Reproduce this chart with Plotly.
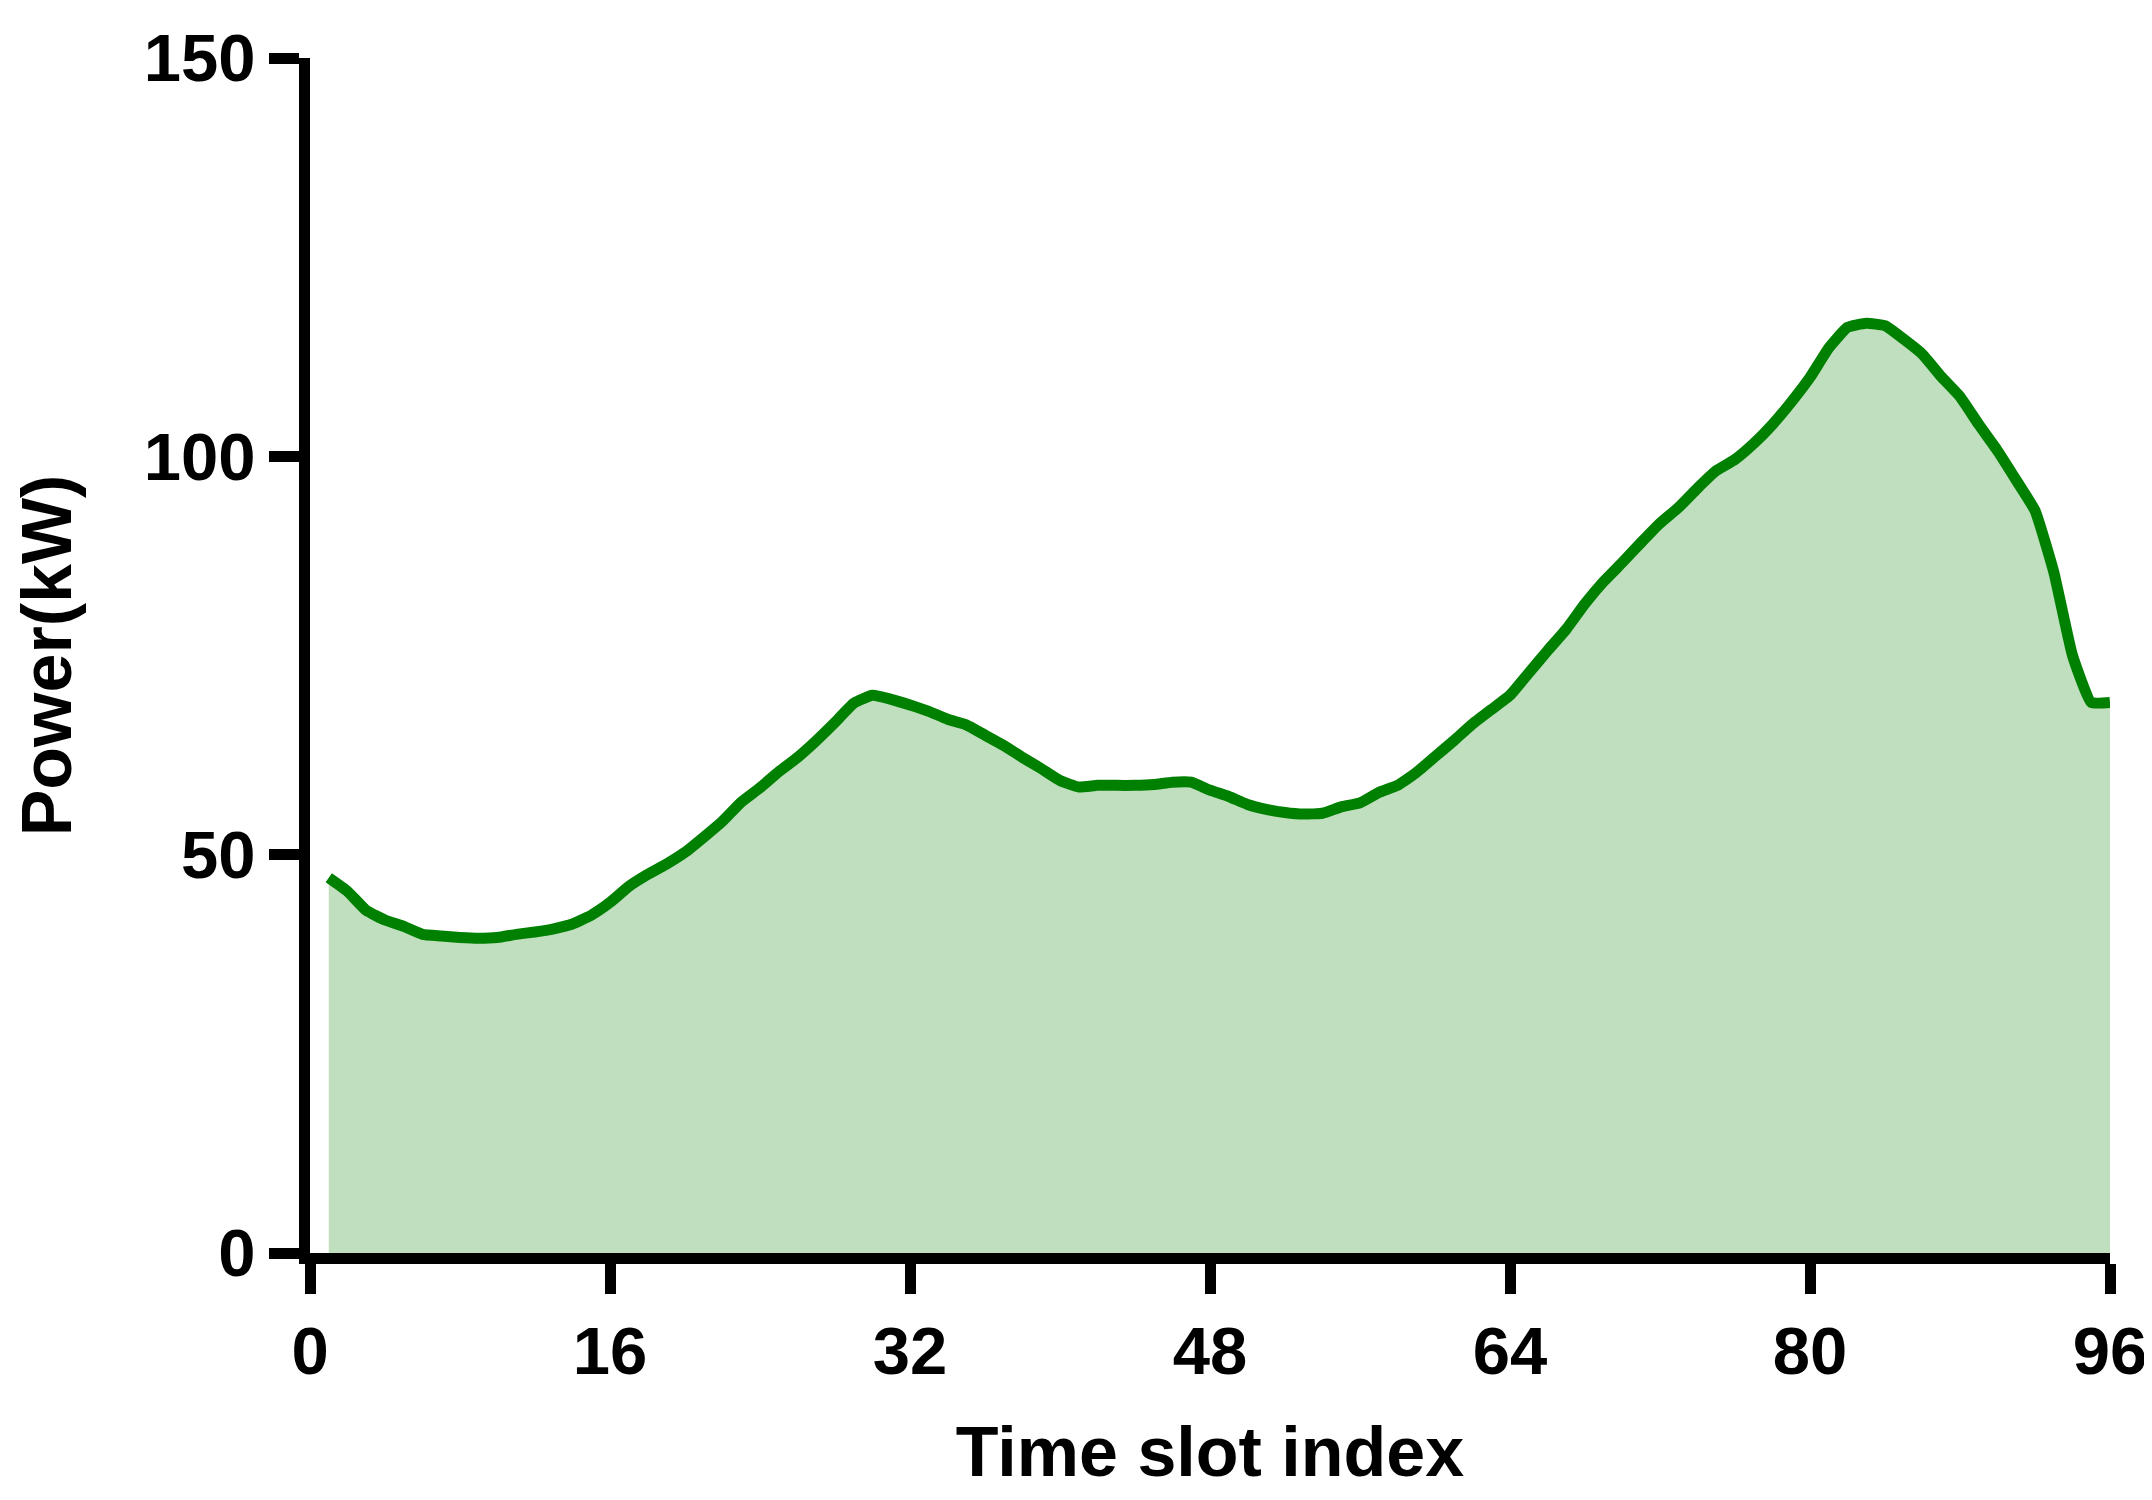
import plotly.graph_objects as go

# Time slot indices 1..96
slots = list(range(1, 97))
# Power (kW)
power = [
    47.1, 45.4, 43.0, 41.8, 41.0, 40.0, 39.8, 39.6, 39.5, 39.6,
    40.0, 40.3, 40.7, 41.3, 42.4, 44.0, 46.0, 47.5, 48.8, 50.3,
    52.2, 54.2, 56.6, 58.4, 60.4, 62.2, 64.3, 66.6, 69.0, 70.0,
    69.5, 68.8, 68.0, 67.0, 66.3, 65.0, 63.7, 62.2, 60.8, 59.3,
    58.5, 58.7, 58.7, 58.7, 58.8, 59.1, 59.1, 58.1, 57.3, 56.3,
    55.7, 55.3, 55.1, 55.2, 56.0, 56.5, 57.8, 58.7, 60.3, 62.3,
    64.3, 66.4, 68.2, 70.0, 72.8, 75.6, 78.3, 81.5, 84.3, 86.7,
    89.2, 91.6, 93.6, 96.0, 98.2, 99.6, 101.6, 104.0, 106.8, 109.9,
    113.6, 116.2, 116.7, 116.4, 114.7, 112.8, 110.0, 107.5, 104.0, 100.7,
    97.0, 93.2, 85.5, 75.0, 69.1, 69.1,
]
x_ticks = [0, 16, 32, 48, 64, 80, 96]
y_ticks = [0, 50, 100, 150]

FONT = "Liberation Sans, Arial, sans-serif"

fig = go.Figure()
fig.add_trace(go.Scatter(
    x=slots, y=power, mode="lines",
    line=dict(color="rgb(0,128,0)", width=11, shape="spline", smoothing=0.4),
    fill="tozeroy", fillcolor="rgba(0,128,0,0.25)",
    showlegend=False,
))

axis_common = dict(
    showline=True, linecolor="black", linewidth=11,
    ticks="outside", ticklen=30, tickwidth=11, tickcolor="black",
    showgrid=False, zeroline=False,
    tickfont=dict(family=FONT, size=67, color="black", weight="bold"),
)

fig.update_layout(
    width=2152, height=1500,
    paper_bgcolor="white", plot_bgcolor="white",
    margin=dict(l=302, r=50, t=50, b=255),
    xaxis=dict(
        range=[0, 96], tickvals=x_ticks, **axis_common,
        title=dict(text="Time slot index", standoff=44,
                   font=dict(family=FONT, size=70, color="black", weight="bold")),
    ),
    yaxis=dict(
        range=[0, 150], tickvals=y_ticks, **axis_common,
        title=dict(text="Power(kW)", standoff=70,
                   font=dict(family=FONT, size=70, color="black", weight="bold")),
    ),
)

fig.write_html("out.html")
